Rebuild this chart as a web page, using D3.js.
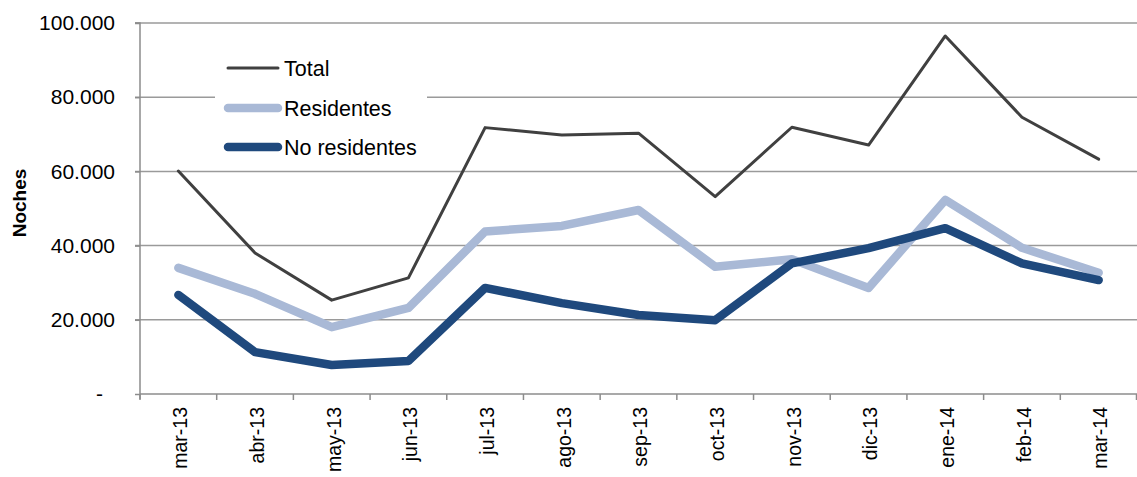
<!DOCTYPE html>
<html><head><meta charset="utf-8">
<script src="https://cdn.jsdelivr.net/npm/d3@7"></script>
<style>body{margin:0;background:#fff}svg{display:block;font-family:"Liberation Sans",Arial,sans-serif}</style>
</head><body><svg id="c" width="1137" height="477"></svg>
<script>
const categories = ["mar-13","abr-13","may-13","jun-13","jul-13","ago-13","sep-13","oct-13","nov-13","dic-13","ene-14","feb-14","mar-14"];
const total = [60100,38000,25300,31300,71800,69800,70300,53200,71900,67100,96500,74600,63300];
const residentes = [34000,27000,18000,23200,43800,45300,49600,34300,36300,28600,52300,39400,32700];
const noResidentes = [26700,11300,7800,8900,28600,24500,21300,19900,35200,39300,44700,35200,30700];
const yTicks = [0,20000,40000,60000,80000,100000];
const yTickLabels = ["-","20.000","40.000","60.000","80.000","100.000"];
const seriesNames = ["Total","Residentes","No residentes"];

const svg = d3.select("#c");
const L = 140, R = 1137, T = 23, B = 394;
const x = d3.scaleBand().domain(categories).range([L, R]).padding(0);
const y = d3.scaleLinear().domain([0,100000]).range([B, T]);

// gridlines
svg.append("g").selectAll("line").data(yTicks.slice(1)).join("line")
  .attr("x1", L-5).attr("x2", R).attr("y1", d=>y(d)).attr("y2", d=>y(d))
  .attr("stroke", "#9a9a9a").attr("stroke-width", 1.5);

// y axis
const yAxis = d3.axisLeft(y).tickValues(yTicks).tickFormat((d,i)=>yTickLabels[i]).tickSize(5).tickPadding(20);
const gy = svg.append("g").attr("transform", `translate(${L},0)`).call(yAxis);
gy.select(".domain").attr("stroke","#8c8c8c").attr("stroke-width",1.5).attr("d",`M-5,${T}H0V${B+5}`);
gy.selectAll(".tick line").attr("stroke","#8c8c8c").attr("stroke-width",1.5);
gy.selectAll("text").attr("font-size",21).attr("fill","#000").attr("font-family","Liberation Sans, Arial, sans-serif");
gy.selectAll(".tick text").filter(d=>d===0).attr("x",-37);

// x axis
const xAxis = d3.axisBottom(x).tickSize(0).tickPadding(0);
const gx = svg.append("g").attr("transform", `translate(0,${B})`).call(xAxis);
gx.select(".domain").attr("stroke","#8c8c8c").attr("stroke-width",1.5).attr("d",`M${L},0H${R}`);
gx.selectAll(".tick text").attr("font-size",19.5).attr("fill","#000")
  .attr("font-family","Liberation Sans, Arial, sans-serif")
  .attr("transform","rotate(-90)").attr("text-anchor","end").attr("dy","0.35em").attr("x",-13).attr("y",2);
// band boundary ticks
svg.append("g").selectAll("line").data(categories.map(c=>x(c)).concat([R-0.5])).join("line")
  .attr("x1",d=>d).attr("x2",d=>d).attr("y1",B).attr("y2",B+6)
  .attr("stroke","#8c8c8c").attr("stroke-width",1.5);

// y title
svg.append("text").attr("transform","translate(26,203) rotate(-90)")
  .attr("text-anchor","middle").attr("font-size",19).attr("font-weight","bold").text("Noches");

// legend background
svg.append("rect").attr("x",215).attr("y",45).attr("width",212).attr("height",122).attr("fill","#fff");

const line = d3.line().x((d,i)=>x(categories[i]) + x.bandwidth()/2).y(d=>y(d));
const series = [
  {name:seriesNames[0], data: total, color:"#404040", w:3},
  {name:seriesNames[1], data: residentes, color:"#a9b9d6", w:8.5},
  {name:seriesNames[2], data: noResidentes, color:"#1f497d", w:8.5}
];
series.forEach(s=>{
  svg.append("path").attr("d", line(s.data)).attr("fill","none")
    .attr("stroke", s.color).attr("stroke-width", s.w)
    .attr("stroke-linejoin","round").attr("stroke-linecap","round");
});

// legend
const ly = [68,108,147];
series.forEach((s,i)=>{
  svg.append("line").attr("x1",228).attr("x2",278).attr("y1",ly[i]).attr("y2",ly[i])
    .attr("stroke",s.color).attr("stroke-width",s.w).attr("stroke-linecap","round");
  svg.append("text").attr("x",284).attr("y",ly[i]).attr("dy","0.36em")
    .attr("font-size",21.5).attr("fill","#000").text(s.name);
});
</script></body></html>
